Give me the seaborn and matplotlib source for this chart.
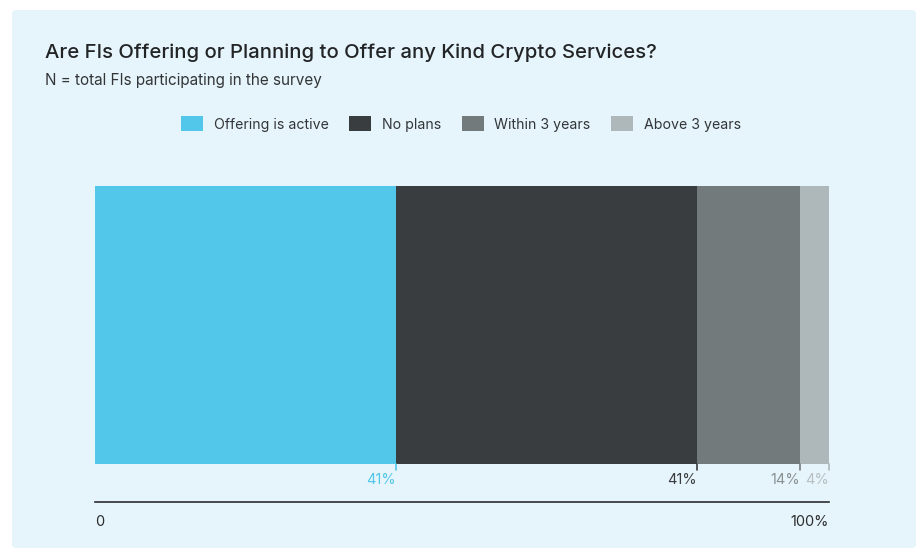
import numpy as np
import pandas as pd
import matplotlib
matplotlib.use("Agg")
import matplotlib.pyplot as plt
import matplotlib.transforms as mtransforms
from matplotlib.patches import FancyBboxPatch, Patch
import seaborn as sns

# Data
categories = ["Offering is active", "No plans", "Within 3 years", "Above 3 years"]
shares = [41, 41, 14, 4]
colors = ["#52C7E9", "#3A3D40", "#737A7C", "#AEB8BA"]
label_colors = ["#52C7E9", "#3A3D40", "#8A9193", "#B7C0C2"]
axis_labels = ["0", "100%"]

title = "Are FIs Offering or Planning to Offer any Kind Crypto Services?"
subtitle = "N = total FIs participating in the survey"

sns.set_theme(style="white")
plt.rcParams["font.family"] = ["Inter", "DejaVu Sans"]

W, H = 921, 550
fig = plt.figure(figsize=(W / 100, H / 100), dpi=100, facecolor="white")

# light blue card behind everything
card = FancyBboxPatch((12 / W, 1 - 548 / H), (916 - 12) / W, (548 - 10) / H,
                      boxstyle="round,pad=0,rounding_size=0.006",
                      transform=fig.transFigure, facecolor="#E6F5FB",
                      edgecolor="none", zorder=-5)
fig.patches.append(card)

fig.text(45 / W, 1 - 58 / H, title, fontsize=14.6, fontweight="medium",
         color="#222426", va="baseline")
fig.text(45 / W, 1 - 85 / H, subtitle, fontsize=11, color="#333638", va="baseline")

handles = [Patch(facecolor=c, edgecolor="none") for c in colors]
fig.legend(handles, categories, loc="center", bbox_to_anchor=(461 / W, 1 - 124 / H),
           ncol=4, frameon=False, fontsize=10.2, handlelength=1.55, handleheight=1.2,
           handletextpad=0.75, columnspacing=1.45, labelcolor="#333638")

ax = fig.add_axes([95 / W, 1 - 464 / H, (829 - 95) / W, (464 - 186) / H])
ax.set_facecolor("none")
ax.set_zorder(2)

cum = np.cumsum(shares)
df = pd.DataFrame({"category": categories, "end": cum, "group": [""] * len(cum)})

# stacked bar: draw longest cumulative first so shorter ones sit on top
for i in range(len(df) - 1, -1, -1):
    sns.barplot(data=df.iloc[[i]], x="end", y="group", orient="h", color=colors[i],
                saturation=1, width=1, linewidth=0, ax=ax)

ax.set_xlim(0, 100)
ax.set_ylim(0.5, -0.5)
ax.set_ylabel("")
ax.set_xlabel("")
ax.set_yticks([])

# segment end ticks and labels just under the bar
trans = mtransforms.blended_transform_factory(ax.transData, ax.transAxes)
px = 1 / (464 - 186)
for end, share, lc, c in zip(cum, shares, label_colors, colors):
    ax.plot([end, end], [0, -6 * px], color=c, lw=1.2,
            transform=trans, clip_on=False)
    ax.text(end, -16 * px, f"{share}%", transform=trans, ha="right", va="center",
            fontsize=10.5, color=lc)

# bottom axis as 0 .. 100% baseline (offset is in points: 38 px below the bar)
for s in ["top", "left", "right"]:
    ax.spines[s].set_visible(False)
ax.spines["bottom"].set_position(("outward", 38 * 0.72))
ax.spines["bottom"].set_color("#2B2D2F")
ax.spines["bottom"].set_linewidth(1.2)
ax.set_xticks([0, 100])
ax.set_xticklabels(axis_labels, fontsize=10.5, color="#2B2D2F")
ax.tick_params(axis="x", length=4, direction="inout", width=1, color="#2B2D2F", pad=7)
ax.xaxis.get_major_ticks()[0].tick1line.set_visible(False)
tl = ax.get_xticklabels()
tl[0].set_ha("left")
tl[1].set_ha("right")

fig.savefig("out.png", dpi=100, facecolor="white")
